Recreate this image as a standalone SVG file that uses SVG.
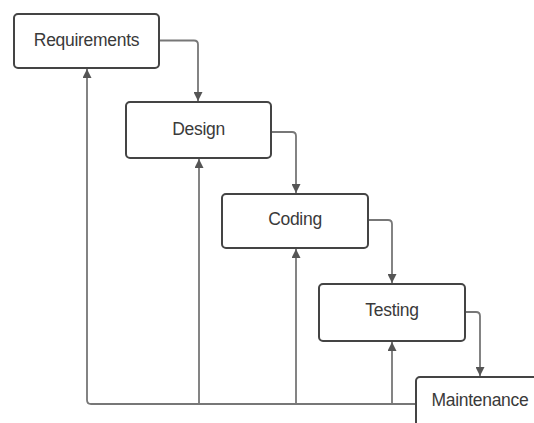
<svg xmlns="http://www.w3.org/2000/svg" width="534" height="423" viewBox="0 0 534 423">
<defs>
<marker id="ah" viewBox="0 0 10 10" refX="10" refY="5" markerWidth="10" markerHeight="9" markerUnits="userSpaceOnUse" orient="auto">
<path d="M0,0 L10,5 L0,10 z" fill="#555"/>
</marker>
<style>
.box{fill:#fff;stroke:#444;stroke-width:2}
.lbl{font-family:"Liberation Sans",Arial,sans-serif;font-size:17.5px;fill:#3a3a3a;text-anchor:middle;dominant-baseline:central;letter-spacing:-0.3px}
.c{fill:none;stroke:#777;stroke-width:1.8;stroke-linejoin:round}
</style>
</defs>
<rect width="534" height="423" fill="#fff"/>
<g id="connectors">
<path class="c" d="M159,40.5 H194 Q198,40.5 198,44.5 V101" marker-end="url(#ah)"/>
<path class="c" d="M271,132 H292 Q296,132 296,136 V193" marker-end="url(#ah)"/>
<path class="c" d="M368,220 H388 Q392,220 392,224 V283" marker-end="url(#ah)"/>
<path class="c" d="M465,312 H476 Q480,312 480,316 V376" marker-end="url(#ah)"/>
<path class="c" d="M415,404 H91 Q87,404 87,400 V69" marker-end="url(#ah)"/>
<path class="c" d="M199,404 V159" marker-end="url(#ah)"/>
<path class="c" d="M296,404 V249" marker-end="url(#ah)"/>
<path class="c" d="M392,404 V342" marker-end="url(#ah)"/>
</g>
<g id="requirements">
<rect class="box" x="14" y="14" width="145" height="54" rx="4"/>
<text class="lbl" x="86.5" y="40">Requirements</text>
</g>
<g id="design">
<rect class="box" x="126" y="102" width="145" height="56" rx="4"/>
<text class="lbl" x="198.5" y="129">Design</text>
</g>
<g id="coding">
<rect class="box" x="222" y="194" width="146" height="54" rx="4"/>
<text class="lbl" x="295" y="219">Coding</text>
</g>
<g id="testing">
<rect class="box" x="319" y="284" width="146" height="57" rx="4"/>
<text class="lbl" x="392" y="310">Testing</text>
</g>
<g id="maintenance">
<rect class="box" x="416" y="377" width="145" height="60" rx="4"/>
<text class="lbl" x="480" y="400">Maintenance</text>
</g>
</svg>
